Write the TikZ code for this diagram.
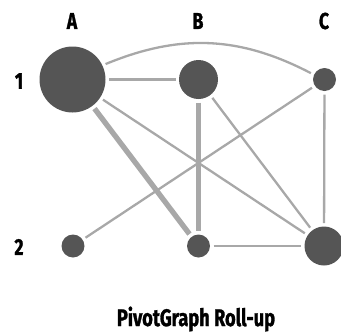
\documentclass[tikz,border=0pt]{standalone}
\usepackage{fontspec}
\setmainfont[FakeStretch=0.76,FakeBold=1.2]{Fira Sans}
\begin{document}
\begin{tikzpicture}[x=1pt,y=-1pt,
  dot/.style={circle,fill=nodegray,draw=none,inner sep=0pt,outer sep=3.5pt},
  lbl/.style={font=\fontsize{23}{27}\selectfont\bfseries,text=black,inner sep=0pt},
  ttl/.style={font=\fontsize{24}{28}\selectfont\bfseries,text=black,inner sep=0pt},
  edge/.style={draw=edgegray,line width=2.3pt},
  heavy/.style={draw=edgegray,line width=5.3pt}]
\definecolor{nodegray}{HTML}{555555}
\definecolor{edgegray}{HTML}{A8A8A8}
\useasboundingbox (0,0) rectangle (341,333);
% column / row labels
\node[lbl] (lA) at (72,21) {A};
\node[lbl] (lB) at (198,21) {B};
\node[lbl] (lC) at (324,21) {C};
\node[lbl] (l1) at (19,81) {1};
\node[lbl] (l2) at (19,247) {2};
\node[ttl] (title) at (196,319) {PivotGraph Roll-up};
% nodes
\node[dot,minimum size=66pt] (A1) at (72.5,79.5) {};
\node[dot,minimum size=39pt] (B1) at (198.5,79.5) {};
\node[dot,minimum size=23pt] (C1) at (324.5,79.5) {};
\node[dot,minimum size=23pt] (A2) at (73,246) {};
\node[dot,minimum size=23pt] (B2) at (198.5,246) {};
\node[dot,minimum size=39pt] (C2) at (324,246) {};
% edges
\draw[edge] (A1) to[bend left=25] (C1);
\draw[edge] (A1) -- (B1);
\draw[edge] (A1) -- (C2);
\draw[edge] (B1) -- (C2);
\draw[edge] (C1) -- (A2);
\draw[edge] (C1) -- (C2);
\draw[edge] (B2) -- (C2);
\draw[heavy] (A1) -- (B2);
\draw[heavy] (B1) -- (B2);
\end{tikzpicture}
\end{document}
